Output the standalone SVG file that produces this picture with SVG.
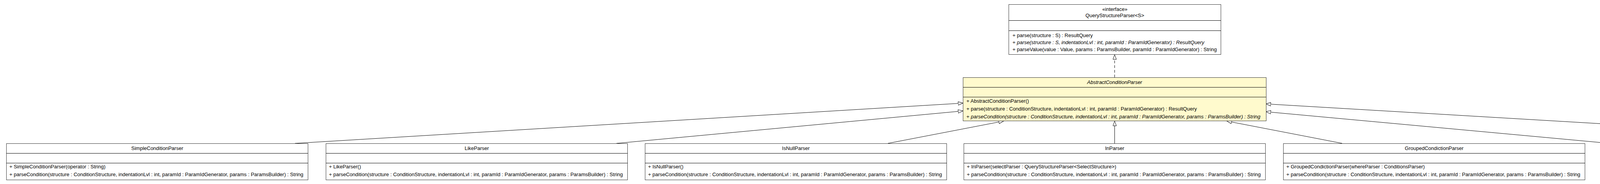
<svg xmlns="http://www.w3.org/2000/svg" width="5708" height="471" viewBox="0 0 5708 471">
<style>
.box{fill:#ffffff;stroke:#333333;stroke-width:1}
.abs{fill:#FFFACD;stroke:#333333;stroke-width:1}
.dv{stroke:#000000;stroke-width:1}
text{font-family:"Liberation Sans",Arial,Helvetica,sans-serif;font-size:13px;fill:#000000}
.c{text-anchor:middle}
.i{font-style:italic}
.edge{stroke:#000000;stroke-width:1;fill:none}
.dash{stroke-dasharray:7,5}
</style>
<defs>
<marker id="tri" viewBox="0 0 13 10" refX="12.5" refY="5" markerWidth="13" markerHeight="10" markerUnits="userSpaceOnUse" orient="auto">
<path d="M0.5,0.5 L12.5,5 L0.5,9.5 z" fill="#ffffff" stroke="#000000" stroke-width="1"/>
</marker>
</defs>
<rect x="0" y="0" width="5708" height="471" fill="#ffffff"/>

<g id="connectors">
<path class="edge" d="M755,367 L2465,264" marker-end="url(#tri)"/>
<path class="edge" d="M1578,367 L2465,284" marker-end="url(#tri)"/>
<path class="edge" d="M2273,367 L2569,310" marker-end="url(#tri)"/>
<path class="edge" d="M2853.5,367 L2853.5,310" marker-end="url(#tri)"/>
<path class="edge" d="M3436,367 L3141,310" marker-end="url(#tri)"/>
<path class="edge" d="M4121,367 L3241,286" marker-end="url(#tri)"/>
<path class="edge" d="M4951,367 L3241,266" marker-end="url(#tri)"/>
<path class="edge dash" d="M2853.5,198 L2853.5,140" marker-end="url(#tri)"/>
</g>

<g id="QueryStructureParser">
<rect class="box" x="2582.5" y="11.5" width="543" height="128"/>
<line class="dv" x1="2582.5" y1="52.5" x2="3125.5" y2="52.5"/>
<line class="dv" x1="2582.5" y1="78.5" x2="3125.5" y2="78.5"/>
<text class="c" x="2854" y="28">«interface»</text>
<text class="c" x="2854" y="44">QueryStructureParser&lt;S&gt;</text>
<text x="2592" y="95">+ parse(structure : S) : ResultQuery</text>
<text x="2592" y="113">+ <tspan class="i">parse(structure : S, indentationLvl : int, paramId : ParamIdGenerator) : ResultQuery</tspan></text>
<text x="2592" y="131">+ parseValue(value : Value, params : ParamsBuilder, paramId : ParamIdGenerator) : String</text>
</g>

<g id="AbstractConditionParser">
<rect class="abs" x="2465.5" y="198.5" width="776" height="111"/>
<line class="dv" x1="2465.5" y1="223.5" x2="3241.5" y2="223.5"/>
<line class="dv" x1="2465.5" y1="248.5" x2="3241.5" y2="248.5"/>
<text class="c i" x="2853.5" y="215">AbstractConditionParser</text>
<text x="2474" y="263">+ AbstractConditionParser()</text>
<text x="2474" y="283">+ parse(structure : ConditionStructure, indentationLvl : int, paramId : ParamIdGenerator) : ResultQuery</text>
<text x="2474" y="303">+ <tspan class="i">parseCondition(structure : ConditionStructure, indentationLvl : int, paramId : ParamIdGenerator, params : ParamsBuilder) : String</tspan></text>
</g>

<g id="SimpleConditionParser">
<rect class="box" x="16.5" y="367.5" width="772" height="93"/>
<line class="dv" x1="16.5" y1="392.5" x2="788.5" y2="392.5"/>
<line class="dv" x1="16.5" y1="417.5" x2="788.5" y2="417.5"/>
<text class="c" x="402.5" y="384">SimpleConditionParser</text>
<text x="24" y="431">+ SimpleConditionParser(operator : String)</text>
<text x="24" y="451">+ parseCondition(structure : ConditionStructure, indentationLvl : int, paramId : ParamIdGenerator, params : ParamsBuilder) : String</text>
</g>

<g id="LikeParser">
<rect class="box" x="834.5" y="367.5" width="772" height="93"/>
<line class="dv" x1="834.5" y1="392.5" x2="1606.5" y2="392.5"/>
<line class="dv" x1="834.5" y1="417.5" x2="1606.5" y2="417.5"/>
<text class="c" x="1220.5" y="384">LikeParser</text>
<text x="842" y="431">+ LikeParser()</text>
<text x="842" y="451">+ parseCondition(structure : ConditionStructure, indentationLvl : int, paramId : ParamIdGenerator, params : ParamsBuilder) : String</text>
</g>

<g id="IsNullParser">
<rect class="box" x="1651.5" y="367.5" width="772" height="93"/>
<line class="dv" x1="1651.5" y1="392.5" x2="2423.5" y2="392.5"/>
<line class="dv" x1="1651.5" y1="417.5" x2="2423.5" y2="417.5"/>
<text class="c" x="2037.5" y="384">IsNullParser</text>
<text x="1659" y="431">+ IsNullParser()</text>
<text x="1659" y="451">+ parseCondition(structure : ConditionStructure, indentationLvl : int, paramId : ParamIdGenerator, params : ParamsBuilder) : String</text>
</g>

<g id="InParser">
<rect class="box" x="2467.5" y="367.5" width="772" height="93"/>
<line class="dv" x1="2467.5" y1="392.5" x2="3239.5" y2="392.5"/>
<line class="dv" x1="2467.5" y1="417.5" x2="3239.5" y2="417.5"/>
<text class="c" x="2853.5" y="384">InParser</text>
<text x="2475" y="431">+ InParser(selectParser : QueryStructureParser&lt;SelectStructure&gt;)</text>
<text x="2475" y="451">+ parseCondition(structure : ConditionStructure, indentationLvl : int, paramId : ParamIdGenerator, params : ParamsBuilder) : String</text>
</g>

<g id="GroupedCondictionParser">
<rect class="box" x="3285.5" y="367.5" width="772" height="93"/>
<line class="dv" x1="3285.5" y1="392.5" x2="4057.5" y2="392.5"/>
<line class="dv" x1="3285.5" y1="417.5" x2="4057.5" y2="417.5"/>
<text class="c" x="3671.5" y="384">GroupedCondictionParser</text>
<text x="3293" y="431">+ GroupedCondictionParser(whereParser : ConditionsParser)</text>
<text x="3293" y="451">+ parseCondition(structure : ConditionStructure, indentationLvl : int, paramId : ParamIdGenerator, params : ParamsBuilder) : String</text>
</g>

<g id="ExistsParser">
<rect class="box" x="4103.5" y="367.5" width="772" height="93"/>
<line class="dv" x1="4103.5" y1="392.5" x2="4875.5" y2="392.5"/>
<line class="dv" x1="4103.5" y1="417.5" x2="4875.5" y2="417.5"/>
<text class="c" x="4489.5" y="384">ExistsParser</text>
<text x="4111" y="431">+ ExistsParser(selectParser : QueryStructureParser&lt;SelectStructure&gt;)</text>
<text x="4111" y="451">+ parseCondition(structure : ConditionStructure, indentationLvl : int, paramId : ParamIdGenerator, params : ParamsBuilder) : String</text>
</g>

<g id="BetweenParser">
<rect class="box" x="4921.5" y="367.5" width="772" height="93"/>
<line class="dv" x1="4921.5" y1="392.5" x2="5693.5" y2="392.5"/>
<line class="dv" x1="4921.5" y1="417.5" x2="5693.5" y2="417.5"/>
<text class="c" x="5307.5" y="384">BetweenParser</text>
<text x="4929" y="431">+ BetweenParser()</text>
<text x="4929" y="451">+ parseCondition(structure : ConditionStructure, indentationLvl : int, paramId : ParamIdGenerator, params : ParamsBuilder) : String</text>
</g>
</svg>
